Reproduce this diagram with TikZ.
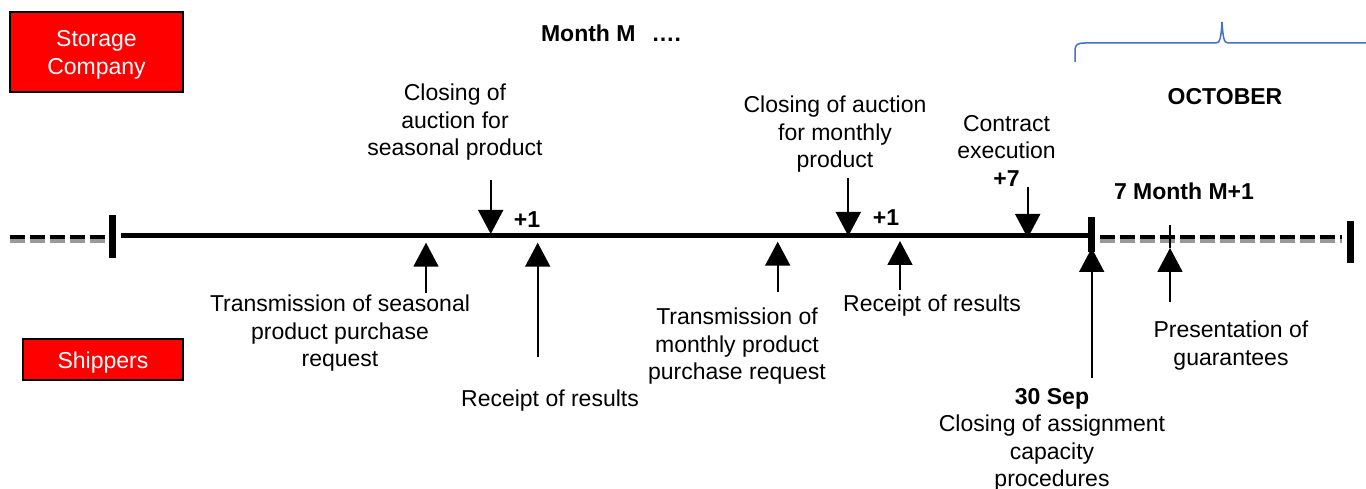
\documentclass[tikz,border=0pt]{standalone}
\usepackage{fontspec}
\setmainfont{Liberation Sans}
\usetikzlibrary{arrows.meta}
\definecolor{boxred}{RGB}{255,0,0}
\definecolor{bracecol}{RGB}{68,114,196}
\begin{document}
\begin{tikzpicture}[x=1pt,y=-1pt,
  lbl/.style={font=\fontsize{23}{27.5}\selectfont, align=center, inner sep=0pt, anchor=north},
  boldlbl/.style={lbl, font=\fontsize{23}{27.5}\selectfont\bfseries},
  party/.style={draw=black, line width=2pt, fill=boxred, text=white,
    font=\fontsize{23}{27.5}\selectfont, inner sep=0pt},
  evt/.style={line width=1.8pt, -{Triangle[width=25pt,length=24pt]}},
  axis/.style={line width=5pt},
  bar/.style={line width=7pt},
  dashtop/.style={line width=4pt, dash pattern=on 15pt off 5pt},
  dashbot/.style={line width=4pt, black!40, dash pattern=on 15pt off 5pt},
]
\useasboundingbox (0,0) rectangle (1366,489);

% parties
\node[party, minimum width=173pt, minimum height=80pt] (storage) at (96.5,52)
  {\raisebox{-3pt}[\height][\depth]{\begin{tabular}{@{}c@{}}Storage\\Company\end{tabular}}};
\node[party, minimum width=160pt, minimum height=41pt] (shippers) at (103,359.5)
  {\raisebox{-3pt}[\height][\depth]{Shippers}};

% time axis
\coordinate (tl-start) at (121,236);
\coordinate (tl-end) at (1092,236);
\draw[axis] (tl-start) -- (tl-end);

% dashed lead-in and continuation
\coordinate (lead-a) at (10,237);  \coordinate (lead-b) at (108,237);
\coordinate (lead-c) at (10,241);  \coordinate (lead-d) at (108,241);
\draw[dashbot] (lead-c) -- (lead-d);
\draw[dashtop] (lead-a) -- (lead-b);
\coordinate (cont-a) at (1100,237); \coordinate (cont-b) at (1342,237);
\coordinate (cont-c) at (1100,241); \coordinate (cont-d) at (1342,241);
\draw[dashbot] (cont-c) -- (cont-d);
\draw[dashtop] (cont-a) -- (cont-b);

% bars
\coordinate (bar1a) at (112,215);    \coordinate (bar1b) at (112,258);
\coordinate (bar2a) at (1091.5,217); \coordinate (bar2b) at (1091.5,252);
\coordinate (bar3a) at (1350,221);   \coordinate (bar3b) at (1350,263);
\draw[bar] (bar1a) -- (bar1b);
\draw[bar] (bar2a) -- (bar2b);
\draw[bar] (bar3a) -- (bar3b);

% storage company events (downward)
\coordinate (d1a) at (490.7,180); \coordinate (d1b) at (490.7,234);
\coordinate (d2a) at (848.3,178); \coordinate (d2b) at (848.3,236);
\coordinate (d3a) at (1027.7,187); \coordinate (d3b) at (1027.7,238);
\draw[evt] (d1a) -- (d1b);
\draw[evt] (d2a) -- (d2b);
\draw[evt] (d3a) -- (d3b);

% shipper events (upward)
\coordinate (u1a) at (426,292.7);  \coordinate (u1b) at (426,242.7);
\coordinate (u2a) at (537.7,357);  \coordinate (u2b) at (537.7,242.7);
\coordinate (u3a) at (777.7,291.7); \coordinate (u3b) at (777.7,241.7);
\coordinate (u4a) at (900,290);    \coordinate (u4b) at (900,241);
\coordinate (u5a) at (1091.7,378); \coordinate (u5b) at (1091.7,248);
\coordinate (u6a) at (1170,301.7); \coordinate (u6b) at (1170,248);
\coordinate (u6c) at (1170,225);
\draw[evt] (u1a) -- (u1b);
\draw[evt] (u2a) -- (u2b);
\draw[evt] (u3a) -- (u3b);
\draw[evt] (u4a) -- (u4b);
\draw[evt] (u5a) -- (u5b);
\draw[line width=1.3pt] (u6b) -- (u6c);
\draw[evt] (u6a) -- (u6b);

% month brace
\coordinate (br-l) at (1075,62);
\coordinate (br-r) at (1366,43);
\draw[bracecol, line width=1.5pt]
  (br-l) -- (1075,51) .. controls (1075,44) and (1078,43) .. (1085,43)
  -- (1216,43) .. controls (1220,43) and (1221,38) .. (1222,22)
  .. controls (1223,38) and (1224,43) .. (1228,43) -- (br-r);

% headings
\node[boldlbl] (monthM) at (611,25) {Month M\hspace{16pt}….};
\node[boldlbl] (october) at (1225,88) {OCTOBER};
\node[boldlbl] (nextmonth) at (1184,183) {7 Month M+1};
\node[boldlbl] (plus1a) at (527,211) {+1};
\node[boldlbl] (plus1b) at (886,209) {+1};

% storage company labels
\node[lbl] (closeseas) at (455,84) {Closing of\\auction for\\seasonal product};
\node[lbl] (closemon) at (835,96) {Closing of auction\\for monthly\\product};
\node[lbl] (contract) at (1006.5,115) {Contract\\execution\\\textbf{+7}};

% shipper labels
\node[lbl] (transseas) at (340,295) {Transmission of seasonal\\product purchase\\request};
\node[lbl] (receipt1) at (550,390) {Receipt of results};
\node[lbl] (transmon) at (737,308) {Transmission of\\monthly product\\purchase request};
\node[lbl] (receipt2) at (932,295) {Receipt of results};
\node[lbl] (closeassign) at (1052,388) {\textbf{30 Sep}\\Closing of assignment\\capacity\\procedures};
\node[lbl] (guarantees) at (1231,321) {Presentation of\\guarantees};
\end{tikzpicture}
\end{document}
